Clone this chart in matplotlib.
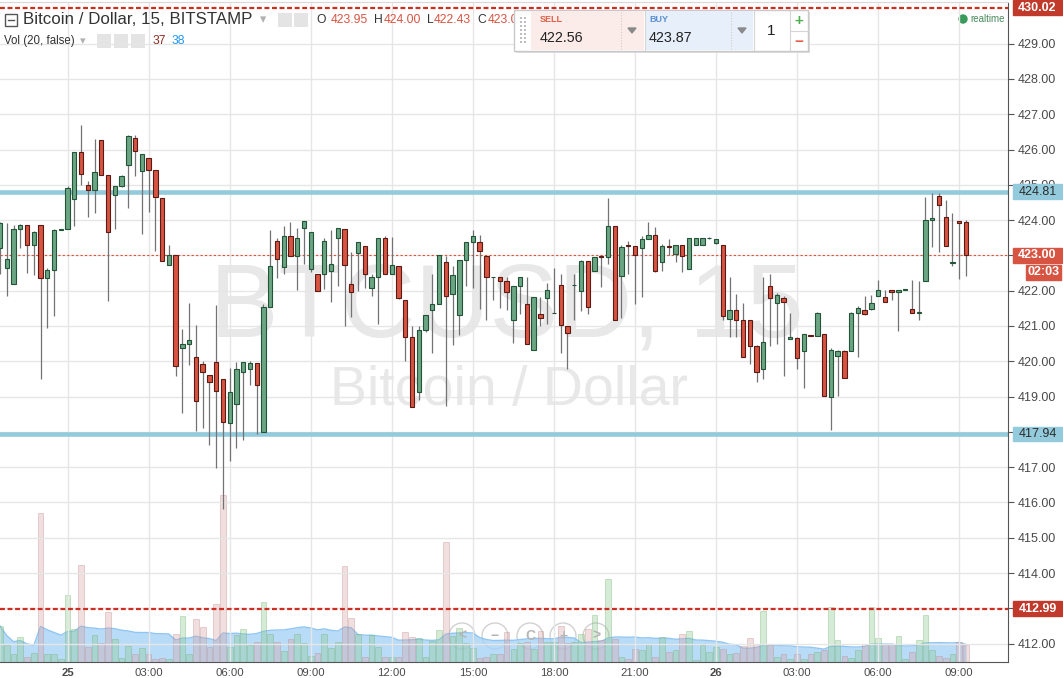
import matplotlib.pyplot as plt
from matplotlib.patches import Rectangle, Ellipse, Polygon
from matplotlib.lines import Line2D
import numpy as np
import pandas as pd

plt.rcParams['font.family'] = ['Liberation Sans', 'DejaVu Sans']

# 15 minute candles, BTCUSD Bitstamp
opens = [423.21, 422.65, 422.20, 423.75, 423.86, 423.29, 423.86, 422.37, 422.59, 423.73,
         423.75, 424.59, 425.94, 424.99, 424.86, 426.28, 425.27, 424.70, 424.96, 425.55,
         426.34, 425.38, 425.75, 425.41, 424.62, 422.73, 423.01, 420.39, 420.48, 420.11,
         419.92, 419.61, 419.97, 419.49, 418.25, 418.79, 419.69, 419.77, 419.94, 418.00,
         421.55, 423.41, 422.68, 423.55, 422.99, 423.77, 422.62, 422.48, 422.48, 422.56,
         423.49, 423.75, 422.20, 423.07, 423.27, 422.08, 422.39, 423.49, 422.48, 422.70,
         421.75, 420.68, 419.13, 420.90, 421.46, 421.63, 422.82, 421.92, 421.30, 422.87,
         423.38, 423.38, 422.99, 422.38, 422.39, 422.28, 421.16, 422.14, 421.63, 420.31,
         421.35, 421.80, 421.36, 422.17, 421.01, 422.15, 422.00, 422.85, 422.56, 422.97,
         422.96, 423.83, 422.42, 423.30, 423.27, 423.21, 423.47, 423.58, 422.82, 423.28,
         423.04, 423.30, 422.62, 423.30, 423.30, 423.48, 423.35, 423.30, 421.21, 421.46,
         421.18, 421.16, 420.42, 419.77, 422.14, 421.66, 421.80, 420.62, 420.65, 420.28,
         420.75, 420.73, 420.76, 418.99, 420.14, 420.28, 420.28, 421.38, 421.44, 421.49,
         421.86, 421.83, 422.03, 421.97, 422.02, 421.49, 421.37, 422.28, 424.00, 424.68,
         424.08, 422.78, 423.97, 423.95]
highs = [423.95, 423.92, 423.87, 423.89, 423.86, 423.70, 423.86, 422.63, 423.75, 423.75,
         424.96, 425.94, 426.70, 425.11, 426.29, 426.28, 425.27, 424.98, 425.28, 426.42,
         426.42, 425.86, 425.75, 425.41, 424.62, 423.30, 423.01, 420.91, 421.64, 421.02,
         420.01, 419.61, 421.59, 419.49, 419.81, 419.97, 419.97, 420.01, 419.94, 421.61,
         423.73, 423.50, 423.84, 423.95, 423.78, 423.97, 423.66, 422.48, 423.50, 423.73,
         423.77, 423.75, 423.10, 423.38, 423.27, 422.48, 423.49, 423.55, 423.53, 422.70,
         421.75, 420.99, 420.99, 421.32, 422.46, 423.01, 422.97, 422.70, 422.87, 423.38,
         423.73, 423.59, 422.99, 422.40, 422.39, 422.39, 422.14, 422.39, 422.39, 421.83,
         421.83, 422.23, 422.63, 422.46, 421.01, 422.48, 422.87, 422.85, 422.96, 422.97,
         424.62, 423.83, 423.30, 423.41, 423.27, 423.55, 423.94, 423.80, 423.32, 423.47,
         423.30, 423.30, 423.49, 423.49, 423.49, 423.51, 423.47, 423.30, 422.39, 421.90,
         421.66, 421.16, 420.45, 422.39, 422.48, 421.94, 421.86, 421.38, 420.69, 420.76,
         420.75, 421.41, 420.76, 420.39, 420.31, 420.31, 421.41, 421.58, 421.86, 421.89,
         422.31, 422.03, 422.03, 422.03, 422.04, 422.31, 422.28, 424.65, 424.76, 424.76,
         424.56, 424.20, 423.97, 424.00]
lows = [422.48, 421.85, 422.20, 423.20, 422.50, 422.44, 419.51, 420.95, 421.29, 423.73,
        423.75, 423.84, 425.00, 424.09, 424.21, 425.27, 421.71, 423.74, 424.94, 424.33,
        425.26, 423.60, 424.22, 423.12, 422.85, 422.73, 419.57, 418.53, 419.90, 418.02,
        418.10, 417.62, 416.98, 415.82, 417.17, 417.54, 417.77, 419.34, 417.94, 418.00,
        421.55, 422.36, 422.47, 422.99, 422.02, 422.75, 422.54, 422.00, 422.05, 421.68,
        422.13, 421.00, 421.26, 421.99, 422.08, 421.85, 421.06, 422.48, 422.48, 421.77,
        420.02, 418.70, 418.89, 420.84, 420.24, 421.63, 418.73, 420.47, 420.75, 422.13,
        422.08, 421.48, 421.17, 421.73, 421.51, 421.46, 420.53, 421.34, 420.48, 420.31,
        421.00, 421.06, 421.36, 420.24, 419.79, 421.18, 421.43, 421.35, 422.56, 422.10,
        422.76, 421.16, 421.24, 422.48, 421.63, 421.82, 423.47, 422.54, 422.56, 423.01,
        422.82, 422.54, 422.62, 423.30, 423.30, 423.46, 423.32, 421.18, 420.69, 420.69,
        420.11, 419.93, 419.40, 419.51, 420.42, 420.48, 419.57, 420.62, 419.77, 419.23,
        420.73, 420.73, 419.01, 418.05, 419.01, 419.52, 420.28, 420.13, 421.30, 421.46,
        421.86, 421.69, 421.75, 420.86, 422.02, 421.38, 421.17, 422.28, 423.23, 423.09,
        423.27, 422.70, 422.34, 422.43]
closes = [423.92, 422.89, 423.75, 423.86, 423.29, 423.66, 422.37, 422.59, 423.72, 423.75,
          424.90, 425.94, 425.30, 424.86, 425.35, 425.27, 423.65, 424.96, 425.24, 426.37,
          425.97, 425.86, 425.41, 424.65, 422.85, 423.01, 419.86, 420.48, 420.59, 418.87,
          419.69, 419.41, 419.16, 418.28, 419.13, 419.77, 419.97, 419.94, 419.32, 421.55,
          422.70, 422.90, 423.55, 422.99, 423.49, 423.97, 423.66, 422.00, 423.41, 422.76,
          423.77, 422.73, 421.97, 423.38, 422.48, 422.39, 423.49, 422.48, 422.73, 421.80,
          420.68, 418.70, 420.90, 421.32, 421.63, 423.01, 421.86, 422.45, 422.87, 423.38,
          423.55, 423.13, 422.39, 422.40, 422.28, 421.97, 422.14, 422.39, 420.48, 421.83,
          421.24, 422.03, 421.38, 421.04, 420.79, 422.17, 422.85, 421.55, 422.96, 422.95,
          423.83, 421.16, 423.24, 423.27, 423.01, 423.47, 423.58, 422.56, 423.27, 423.25,
          423.30, 422.99, 423.49, 423.49, 423.49, 423.50, 423.47, 421.27, 421.46, 421.18,
          420.11, 420.42, 419.69, 420.54, 421.80, 421.89, 421.69, 420.69, 420.08, 420.76,
          420.73, 421.38, 419.01, 420.31, 420.28, 419.52, 421.38, 421.52, 421.35, 421.66,
          422.03, 421.69, 421.97, 422.03, 422.04, 421.38, 421.39, 424.00, 424.06, 424.42,
          423.27, 422.80, 423.92, 423.00]
volumes = [79, 37, 18, 55, 11, 20, 328, 18, 18, 7, 147, 73, 213, 33, 59, 42, 110, 51, 9, 35,
           18, 31, 18, 7, 9, 7, 62, 101, 18, 95, 77, 33, 128, 367, 33, 59, 73, 37, 44, 132,
           62, 44, 24, 51, 62, 42, 13, 20, 62, 31, 44, 211, 97, 62, 11, 59, 33, 11, 11, 11,
           66, 55, 53, 11, 46, 70, 264, 57, 75, 42, 31, 9, 11, 18, 18, 66, 29, 42, 44, 29,
           68, 44, 44, 79, 42, 44, 62, 73, 103, 48, 183, 51, 11, 7, 29, 26, 40, 11, 55, 22,
           26, 62, 68, 4, 37, 22, 33, 29, 18, 20, 35, 53, 40, 112, 37, 11, 18, 7, 18, 7,
           18, 22, 26, 121, 48, 13, 9, 26, 40, 121, 53, 40, 40, 57, 7, 22, 48, 103, 26, 13,
           9, 18, 44, 37]

resistance = 424.81
support = 417.94
last_price = 423.00
alert_hi = 430.02
alert_lo = 412.99

tick_idx = [10, 22, 34, 46, 58, 70, 82, 94, 106, 118, 130, 142]
tick_lbl = ['25', '03:00', '06:00', '09:00', '12:00', '15:00',
            '18:00', '21:00', '26', '03:00', '06:00', '09:00']

UP, DOWN = '#6ba583', '#d75442'
UP_EDGE, DOWN_EDGE = '#225437', '#5b1a13'

W, H = 1063, 678
fig = plt.figure(figsize=(W / 100, H / 100), dpi=100)
fig.patch.set_facecolor('white')


def ftext(x, y, s, **kw):
    kw.setdefault('va', 'center')
    return fig.text(x / W, 1 - y / H, s, **kw)


def frect(x0, y0, x1, y1, **kw):
    r = Rectangle((x0 / W, 1 - y1 / H), (x1 - x0) / W, (y1 - y0) / H,
                  transform=fig.transFigure, **kw)
    fig.add_artist(r)
    return r


# main chart area, pixel box x 0..1008, y 2..662
ax = fig.add_axes([0, 1 - 662 / H, 1008 / W, 660 / H])
axv = ax.twinx()
ax.set_zorder(2)
axv.set_zorder(1)
ax.patch.set_visible(False)

n = len(opens)
idx = np.arange(n)
px_per_bar = 6.755
ax.set_xlim(0, 1008 / px_per_bar)
ax.set_ylim(411.48, 430.18)

# grid
ax.set_yticks(np.arange(412, 430))
ax.set_yticklabels([f'{v:.2f}' for v in np.arange(412, 430)])
ax.set_xticks(tick_idx)
ax.set_xticklabels(tick_lbl)
for lbl in ax.get_xticklabels():
    if lbl.get_text() in ('25', '26'):
        lbl.set_fontweight('bold')
ax.grid(True, color='#e6e6e6', lw=1)
ax.set_axisbelow(True)
ax.yaxis.tick_right()
ax.tick_params(axis='y', length=4, color='#555555', labelsize=9, labelcolor='#4a4a4a', pad=3)
ax.tick_params(axis='x', length=0, labelsize=8.2, labelcolor='#4a4a4a', pad=4.5)
ax.spines['left'].set_visible(False)
ax.spines['right'].set_color('#555555')
ax.spines['bottom'].set_color('#555555')
ax.spines['top'].set_color('#dadada')
for s in axv.spines.values():
    s.set_visible(False)
axv.set_yticks([])

# watermark
ax.text(75.1, 420.69, 'BTCUSD, 15', fontsize=74, color='#e8e8e8', ha='center', va='baseline', zorder=0)
ax.text(75.4, 418.76, 'Bitcoin / Dollar', fontsize=40, color='#e8e8e8', ha='center', va='baseline', zorder=0)

# volume pane (overlaid at the bottom)
vol = pd.Series(volumes, dtype=float)
vol_ma = vol.rolling(20, min_periods=1).mean()
axv.set_ylim(0, 660 * 2.2)
axv.fill_between(idx, 0, vol_ma, color='#a6d2f7', alpha=0.8, lw=0, zorder=1)
axv.plot(idx, vol_ma, color='#90c6f3', lw=1, zorder=1)
up = np.array(closes) >= np.array(opens)
axv.bar(idx, vol, width=0.85, color=np.where(up, '#8cc78c', '#d9a3a3'), alpha=0.35,
        edgecolor=np.where(up, '#6db06d', '#c08686'), linewidth=0.7, zorder=2)

# horizontal levels
ax.axhline(resistance, color='#93cbdc', lw=3.3, zorder=1.5)
ax.axhline(support, color='#93cbdc', lw=3.3, zorder=1.5)
ax.axhline(alert_hi, color='#cc2e22', lw=1.6, ls=(0, (2.2, 1.2)), zorder=1.6)
ax.axhline(alert_lo, color='#cc2e22', lw=1.6, ls=(0, (2.2, 1.2)), zorder=1.6)
ax.axhline(last_price, color='#e0533a', lw=0.8, ls=(0, (2, 2)), zorder=1.6)

# candles
o = np.array(opens)
c = np.array(closes)
ax.vlines(idx, lows, highs, color='#737375', lw=0.9, zorder=2)
body_lo = np.minimum(o, c)
body_h = np.maximum(np.abs(c - o), 0.02)
ax.bar(idx, body_h, bottom=body_lo, width=0.64,
       color=np.where(up, UP, DOWN), edgecolor=np.where(up, UP_EDGE, DOWN_EDGE),
       linewidth=0.8, zorder=3)

# price labels on the right scale
ytr = ax.get_yaxis_transform()


def rlabel(value, text, bg, fg, bold, x0=1013, x1=1062, h=15):
    a0, a1 = x0 / 1008, x1 / 1008
    dh = h / 35.3
    ax.add_patch(Rectangle((a0, value - dh / 2), a1 - a0, dh, transform=ytr,
                           color=bg, clip_on=False, zorder=5))
    ax.text((a0 + a1) / 2, value, text, transform=ytr, ha='center', va='center',
            fontsize=9, color=fg, fontweight='bold' if bold else 'normal',
            clip_on=False, zorder=6)


rlabel(alert_hi, f'{alert_hi:.2f}', '#c0392b', 'white', True)
rlabel(resistance, f'{resistance:.2f}', '#93cbdc', '#2b2b2b', False)
rlabel(last_price, f'{last_price:.2f}', '#d75442', 'white', True)
rlabel(last_price - 17 / 35.3, '02:03', '#d75442', 'white', True, x0=1026, x1=1061)
rlabel(support, f'{support:.2f}', '#93cbdc', '#2b2b2b', False)
rlabel(alert_lo, f'{alert_lo:.2f}', '#c0392b', 'white', True)

# navigation buttons in the volume area
for bx, sym in zip([462, 495, 530, 563, 596], ['<', '\u2212', 'C', '+', '>']):
    fig.add_artist(Ellipse((bx / W, 1 - 636 / H), 26 / W, 26 / H, transform=fig.transFigure,
                           facecolor=(1, 1, 1, 0.35), edgecolor=(0.7, 0.7, 0.7, 0.6), lw=1))
    ftext(bx, 636, sym, ha='center', fontsize=10, color='#b5b5b5', fontweight='bold')

# header legend
frect(5, 14, 17, 26, fill=False, edgecolor='#555555', lw=1)
fig.add_artist(Line2D([8 / W, 14 / W], [1 - 20 / H, 1 - 20 / H], transform=fig.transFigure,
                      color='#555555', lw=1))
ftext(23, 20, 'Bitcoin / Dollar, 15, BITSTAMP', fontsize=12.2, color='#333333')
ftext(260, 20, '\u25be', fontsize=9, color='#b0b0b0')
for x0 in (278, 294):
    frect(x0, 13, x0 + 14, 27, color='#e4e4e4', lw=0)
ftext(316, 20, 'O', fontsize=8.7, color='#333333')
ftext(331, 20, '423.95', fontsize=8.7, color='#d75442')
ftext(374, 20, 'H', fontsize=8.7, color='#333333')
ftext(384, 20, '424.00', fontsize=8.7, color='#d75442')
ftext(427, 20, 'L', fontsize=8.7, color='#333333')
ftext(434, 20, '422.43', fontsize=8.7, color='#d75442')
ftext(477, 20, 'C', fontsize=8.7, color='#333333')
ftext(488, 20, '423.00', fontsize=8.7, color='#d75442')

ftext(4, 41, 'Vol (20, false)', fontsize=8.3, color='#333333')
ftext(80, 41, '\u25be', fontsize=8, color='#b0b0b0')
for x0 in (97, 114, 131):
    frect(x0, 34, x0 + 14, 48, color='#e4e4e4', lw=0)
ftext(153, 41, '37', fontsize=8.7, color='#8c2d1e')
ftext(172, 41, '38', fontsize=8.7, color='#2196f3')

# trading panel
frect(516, 12, 810, 53, color='#dddddd', lw=0, zorder=5)
frect(514, 10, 808, 51, facecolor='white', edgecolor='#c9c9c9', lw=1, zorder=5)
frect(531, 11, 644, 50, color='#fcece9', lw=0, zorder=5)
frect(645, 11, 753, 50, color='#e7effa', lw=0, zorder=5)
for gx in (521, 525):
    for gy in range(18, 46, 4):
        frect(gx - 0.8, gy - 0.8, gx + 0.8, gy + 0.8, color='#bdbdbd', lw=0, zorder=6)
for sx in (621, 731):
    fig.add_artist(Line2D([sx / W, sx / W], [1 - 12 / H, 1 - 49 / H], transform=fig.transFigure,
                          color='#cccccc', lw=0.8, ls=(0, (1, 1.5)), zorder=6))
for sx in (644.5, 753.5, 789.5):
    fig.add_artist(Line2D([sx / W, sx / W], [1 - 11 / H, 1 - 50 / H], transform=fig.transFigure,
                          color='#d5d5d5', lw=0.8, zorder=6))
fig.add_artist(Line2D([790 / W, 808 / W], [1 - 31 / H, 1 - 31 / H], transform=fig.transFigure,
                      color='#d5d5d5', lw=0.8, zorder=6))
for tx in (632, 742):
    fig.add_artist(Polygon([[(tx - 4) / W, 1 - 28 / H], [(tx + 4) / W, 1 - 28 / H], [tx / W, 1 - 33 / H]],
                           closed=True, transform=fig.transFigure, color='#8a8a8a', zorder=6))
ftext(540, 20, 'SELL', fontsize=6.5, fontweight='bold', color='#e0604a', zorder=7)
ftext(540, 38, '422.56', fontsize=10.3, color='#222222', zorder=7)
ftext(649, 20, 'BUY', fontsize=6.5, fontweight='bold', color='#5a8fd3', zorder=7)
ftext(649, 38, '423.87', fontsize=10.3, color='#222222', zorder=7)
ftext(771, 31, '1', fontsize=11, color='#222222', ha='center', zorder=7)
ftext(799, 21, '+', fontsize=11, color='#4caf50', ha='center', fontweight='bold', zorder=7)
ftext(799, 42, '\u2212', fontsize=11, color='#e0604a', ha='center', fontweight='bold', zorder=7)

# realtime marker
fig.add_artist(Ellipse((963 / W, 1 - 19 / H), 8 / W, 8 / H, transform=fig.transFigure, color='#3a9a5c'))
ftext(970, 19, 'realtime', fontsize=7, color='#4a8a5c')

fig.savefig('out.png', dpi=100)
